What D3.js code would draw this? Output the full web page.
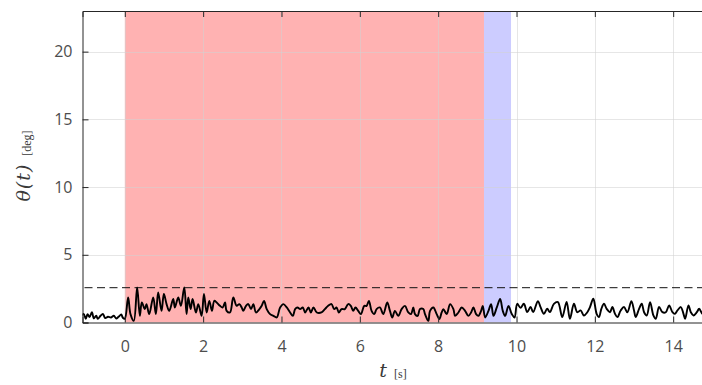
<!DOCTYPE html>
<html>
<head>
<meta charset="utf-8">
<script src="https://cdn.jsdelivr.net/npm/d3@7"></script>
<style>
  html, body { margin: 0; padding: 0; background: #fff; }
  svg { display: block; }
</style>
</head>
<body>
<svg id="chart" width="702" height="385"></svg>
<script>
// ---- data ----
const tVals = [
  -1.1, -1.05, -0.997, -0.95, -0.9, -0.84, -0.79, -0.73, -0.69, -0.62, -0.56, -0.50, -0.43, -0.35, -0.28, -0.22, -0.16, -0.09, -0.05, 0.0,
  0.085, 0.145, 0.23, 0.315, 0.384, 0.435, 0.51, 0.554, 0.622, 0.725, 0.793, 0.852, 0.938, 0.997, 1.066, 1.134, 1.236, 1.279, 1.364, 1.432,
  1.518, 1.577, 1.62, 1.68, 1.73, 1.816, 1.876, 1.961, 2.02, 2.09, 2.157, 2.225, 2.285, 2.345, 2.43, 2.498, 2.558, 2.6, 2.685, 2.77,
  2.856, 2.924, 2.984, 3.026, 3.095, 3.154, 3.222, 3.282, 3.35, 3.436, 3.495, 3.555, 3.623, 3.709, 3.794, 3.879, 3.965, 4.05, 4.135, 4.22,
  4.29, 4.348, 4.408, 4.476, 4.544, 4.604, 4.689, 4.749, 4.817, 4.902,
  5.02, 5.107, 5.192, 5.277, 5.345, 5.405, 5.464, 5.532, 5.618, 5.703, 5.77, 5.83, 5.89, 5.959, 6.027, 6.113, 6.172, 6.232, 6.3, 6.368,
  6.428, 6.513, 6.598, 6.7, 6.769, 6.828, 6.896, 6.982, 7.067, 7.152, 7.238, 7.306, 7.366, 7.408, 7.476, 7.536, 7.621, 7.664, 7.749, 7.792,
  7.877, 7.962, 8.03, 8.09, 8.133, 8.218, 8.304, 8.389, 8.432, 8.517, 8.602, 8.687, 8.772, 8.84, 8.9, 8.968, 9.028, 9.096, 9.139, 9.2,
  9.284, 9.352, 9.412, 9.497, 9.582, 9.65, 9.71, 9.795, 9.88, 9.95,
  10.017, 10.102, 10.188, 10.273, 10.358, 10.426, 10.545, 10.614, 10.699, 10.784, 10.852, 10.955, 11.057, 11.168, 11.279, 11.364,
  11.466, 11.552, 11.637, 11.722, 11.808, 11.876, 11.961, 12.046, 12.106, 12.166, 12.234, 12.302, 12.387, 12.447, 12.515, 12.575, 12.66, 12.745, 12.83, 12.933,
  13.0, 13.043, 13.129, 13.197, 13.257, 13.325, 13.41, 13.495, 13.555, 13.64, 13.726, 13.811, 13.896, 13.981, 14.041, 14.109, 14.194, 14.263, 14.305, 14.39,
  14.45, 14.518, 14.604, 14.663, 14.748, 14.8
];
const thetaVals = [
  0.52, 0.64, 0.27, 0.62, 0.4, 0.76, 0.3, 0.5, 0.27, 0.5, 0.64, 0.33, 0.42, 0.37, 0.5, 0.3, 0.42, 0.59, 0.35, 0.27,
  1.85, 0.62, 0.12, 2.59, 0.49, 1.48, 0.99, 1.36, 0.62, 1.85, 0.62, 2.22, 0.86, 2.1, 1.36, 0.86, 1.73, 1.11, 1.85, 1.23,
  2.59, 0.62, 1.85, 0.99, 1.73, 0.74, 1.36, 0.49, 2.1, 0.74, 1.6, 0.86, 1.6, 1.48, 1.23, 1.11, 1.48, 0.86, 0.74, 1.85,
  1.23, 1.36, 1.11, 0.86, 1.23, 1.36, 0.99, 1.36, 0.74, 0.99, 1.23, 1.6, 0.99, 0.62, 0.49, 0.37, 1.11, 1.36, 1.11, 0.74,
  0.49, 0.99, 1.11, 0.99, 1.11, 0.74, 1.11, 0.74, 1.11, 0.74,
  0.74, 0.99, 1.23, 1.36, 0.99, 1.11, 0.74, 0.99, 0.99, 1.36, 1.23, 0.86, 1.11, 0.86, 0.62, 1.23, 1.23, 1.6, 0.86, 0.62,
  0.99, 1.11, 0.62, 1.48, 0.86, 0.37, 0.86, 0.49, 0.99, 1.23, 0.74, 0.62, 1.11, 0.62, 0.49, 0.99, 0.99, 0.62, 0.12, 0.86,
  1.11, 0.62, 0.25, 0.74, 0.99, 0.62, 1.36, 0.99, 0.49, 0.74, 1.11, 0.86, 0.49, 0.74, 1.11, 0.62, 0.49, 0.86, 1.23, 0.37,
  0.86, 1.36, 0.49, 1.11, 1.73, 0.86, 0.49, 1.23, 0.62, 0.37,
  1.38, 1.09, 1.38, 0.77, 1.14, 0.77, 1.58, 1.14, 0.64, 1.01, 0.77, 1.38, 1.51, 0.4, 1.51, 0.27,
  1.38, 0.76, 0.89, 0.52, 0.76, 1.14, 1.75, 0.64, 0.4, 1.01, 1.38, 1.01, 0.76, 1.14, 0.64, 0.4, 0.89, 1.14, 0.76, 1.58,
  0.89, 0.4, 1.01, 1.38, 0.76, 0.52, 1.5, 0.52, 0.27, 1.14, 0.76, 0.76, 1.26, 0.76, 0.64, 0.89, 1.14, 0.64, 0.27, 1.26,
  0.76, 0.52, 0.76, 1.01, 0.64, 0.9
];
const phaseStarts = [0, 9.17];
const phaseEnds = [9.17, 9.86];
const phaseColors = ["rgb(255,0,0)", "rgb(0,0,255)"];
const phaseOpacity = [0.3, 0.2];
const thresholdValue = 2.57;
const xTicks = [0, 2, 4, 6, 8, 10, 12, 14];
const yTicks = [0, 5, 10, 15, 20];
const xDomain = [-1.08, 14.8];
const yDomain = [0, 23];

// ---- layout ----
const svg = d3.select("#chart");
const pL = 82.5, pT = 11, pB = 322.5;
const pxPerUnit = 39.17;
const pR = pL + (xDomain[1] - xDomain[0]) * pxPerUnit;

const x = d3.scaleLinear().domain(xDomain).range([pL, pR]);
const y = d3.scaleLinear().domain(yDomain).range([pB, pT]);

svg.append("defs").append("clipPath").attr("id", "clip")
  .append("rect").attr("x", pL).attr("y", pT).attr("width", pR - pL).attr("height", pB - pT);

const plot = svg.append("g").attr("clip-path", "url(#clip)");

// shaded phases
plot.selectAll("rect.phase").data(phaseStarts).join("rect")
  .attr("class", "phase")
  .attr("x", (d) => x(d))
  .attr("width", (d, i) => x(phaseEnds[i]) - x(d))
  .attr("y", pT).attr("height", pB - pT)
  .attr("fill", (d, i) => phaseColors[i])
  .attr("fill-opacity", (d, i) => phaseOpacity[i]);

// grid (on top of shading)
const grid = plot.append("g").attr("stroke", "#d2d2d2").attr("stroke-opacity", 0.55).attr("stroke-width", 1);
grid.selectAll("line.gx").data(xTicks).join("line")
  .attr("x1", (d) => Math.round(x(d)) + 0.5).attr("x2", (d) => Math.round(x(d)) + 0.5)
  .attr("y1", pT).attr("y2", pB);
grid.selectAll("line.gy").data(yTicks.filter((d) => d > 0)).join("line")
  .attr("y1", (d) => Math.round(y(d)) + 0.5).attr("y2", (d) => Math.round(y(d)) + 0.5)
  .attr("x1", pL).attr("x2", pR);

// threshold dashed line
plot.append("line")
  .attr("x1", pL + 2).attr("x2", pR)
  .attr("y1", y(thresholdValue)).attr("y2", y(thresholdValue))
  .attr("stroke", "#111").attr("stroke-width", 1)
  .attr("stroke-dasharray", "8,4.5");

// data line
const pts = tVals.map((t, i) => [t, thetaVals[i]]);
plot.append("path")
  .datum(pts)
  .attr("fill", "none")
  .attr("stroke", "#000")
  .attr("stroke-width", 1.9)
  .attr("stroke-linejoin", "round")
  .attr("d", d3.line().curve(d3.curveCatmullRom.alpha(0.5)).x((d) => x(d[0])).y((d) => y(Math.max(0.05, d[1]))));

// axes (inward ticks)
const tickColor = "#262626";
const labelColor = "#4d4d4d";
const fontTicks = "'Open Sans', 'Noto Sans', sans-serif";

const xAxisB = d3.axisBottom(x).tickValues(xTicks).tickSize(-6).tickPadding(18).tickFormat(d3.format("d"));
const gxb = svg.append("g").attr("transform", `translate(0,${pB})`).call(xAxisB);
const xAxisT = d3.axisTop(x).tickValues(xTicks).tickSize(-6).tickFormat("");
const gxt = svg.append("g").attr("transform", `translate(0,${pT})`).call(xAxisT);
const yAxisL = d3.axisLeft(y).tickValues(yTicks).tickSize(-6).tickPadding(10).tickFormat(d3.format("d"));
const gyl = svg.append("g").attr("transform", `translate(${pL},0)`).call(yAxisL);

[gxb, gxt, gyl].forEach((g) => {
  g.select(".domain").attr("stroke", tickColor).attr("stroke-width", 1);
  g.selectAll(".tick line").attr("stroke", tickColor).attr("stroke-width", 1);
  g.selectAll(".tick text")
    .attr("fill", labelColor)
    .style("font-family", fontTicks)
    .style("font-size", "16px");
});

// axis labels
const serif = "'DejaVu Serif', 'Liberation Serif', serif";
const xl = svg.append("text")
  .attr("x", 393).attr("y", 377)
  .attr("text-anchor", "middle")
  .attr("fill", "#3a3a3a");
xl.append("tspan").text("t").style("font-family", serif).style("font-style", "italic").style("font-size", "19px");
xl.append("tspan").attr("dx", 7).attr("dy", 1).text("[s]").style("font-family", "'Liberation Serif', serif").style("font-size", "12px");

const yl = svg.append("text")
  .attr("transform", "translate(30,166) rotate(-90)")
  .attr("text-anchor", "middle")
  .attr("fill", "#3a3a3a");
yl.append("tspan").text("θ(t)").style("font-family", serif).style("font-style", "italic").style("font-size", "19px").style("letter-spacing", "1px");
yl.append("tspan").attr("dx", 8).attr("dy", 1).text("[deg]").style("font-family", "'Liberation Serif', serif").style("font-size", "12px");
</script>
</body>
</html>
